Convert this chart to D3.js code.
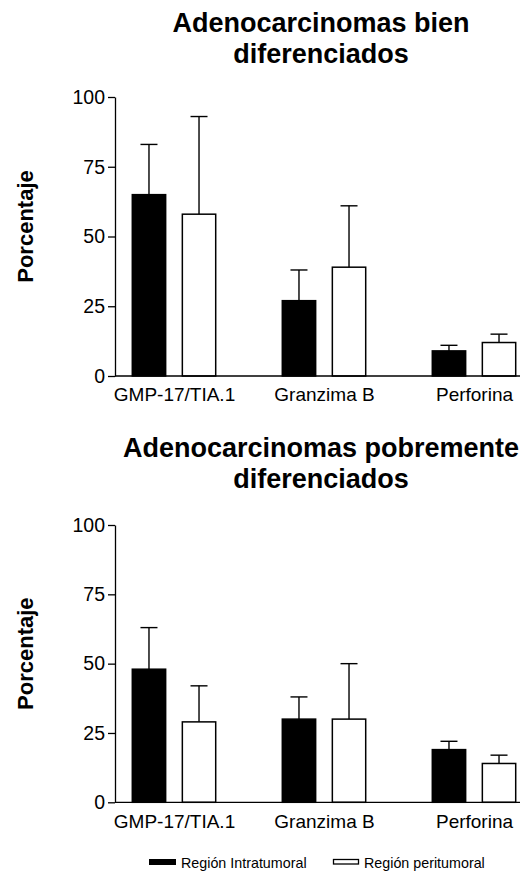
<!DOCTYPE html>
<html>
<head>
<meta charset="utf-8">
<script src="https://cdn.jsdelivr.net/npm/d3@7"></script>
<style>
  body { margin: 0; background: #fff; }
  svg text { font-family: Arial, "Liberation Sans", sans-serif; fill: #000; }
</style>
</head>
<body>
<div id="chart"></div>
<script>
// datos
const categories = ["GMP-17/TIA.1", "Granzima B", "Perforina"];
const series = ["Región Intratumoral", "Región peritumoral"];
const yTicks = [0, 25, 50, 75, 100];

// Adenocarcinomas bien diferenciados
const bienIntra = [65, 27, 9];
const bienIntraErr = [18, 11, 2];
const bienPeri = [58, 39, 12];
const bienPeriErr = [35, 22, 3];

// Adenocarcinomas pobremente diferenciados
const pobreIntra = [48, 30, 19];
const pobreIntraErr = [15, 8, 3];
const pobrePeri = [29, 30, 14];
const pobrePeriErr = [13, 20, 3];

const width = 526, height = 871;
const svg = d3.select("#chart").append("svg").attr("width", width).attr("height", height);

const fills = ["#000", "#fff"];

const DrawPanel = (titleLines, titleY, top, bottom, intra, intraErr, peri, periErr) => {
  const left = 115, right = 520;
  const g = svg.append("g");

  // título
  titleLines.forEach((t, i) => {
    g.append("text")
      .attr("x", 321)
      .attr("y", titleY + i * 31)
      .attr("text-anchor", "middle")
      .attr("font-size", "27px")
      .attr("font-weight", "bold")
      .text(t);
  });

  const yScale = d3.scaleLinear().domain([0, 100]).range([bottom, top]);
  const xScale = d3.scalePoint().domain(categories).range([174, 474]);
  const xInner = d3.scaleBand().domain(series).range([-41.7, 41.7]).paddingInner(1 / 3);

  // eje y
  const ay = g.append("g")
    .attr("transform", "translate(" + left + ",0)")
    .call(d3.axisLeft(yScale).tickValues(yTicks).tickSize(7).tickPadding(3).tickSizeOuter(0));
  ay.select(".domain").attr("stroke", "#000").attr("stroke-width", 1.3);
  ay.selectAll(".tick line").attr("stroke", "#000").attr("stroke-width", 1.3);
  ay.selectAll(".tick text").attr("font-size", "19.5px").attr("font-family", null);

  g.append("text")
    .attr("transform", "rotate(-90)")
    .attr("x", -((top + bottom) / 2 - 10))
    .attr("y", 33)
    .attr("text-anchor", "middle")
    .attr("font-size", "22px")
    .attr("font-weight", "bold")
    .text("Porcentaje");

  // barras
  const rows = categories.map((c, i) => [
    { cat: c, s: series[0], v: intra[i], e: intraErr[i], k: 0 },
    { cat: c, s: series[1], v: peri[i], e: periErr[i], k: 1 }
  ]).flat();

  const bars = g.append("g").selectAll("g").data(rows).enter().append("g");

  // barras de error (solo hacia arriba)
  bars.append("line")
    .attr("x1", d => xScale(d.cat) + xInner(d.s) + xInner.bandwidth() / 2)
    .attr("x2", d => xScale(d.cat) + xInner(d.s) + xInner.bandwidth() / 2)
    .attr("y1", d => yScale(d.v))
    .attr("y2", d => yScale(d.v + d.e))
    .attr("stroke", "#000").attr("stroke-width", 1.4);
  bars.append("line")
    .attr("x1", d => xScale(d.cat) + xInner(d.s) + xInner.bandwidth() / 2 - 8.5)
    .attr("x2", d => xScale(d.cat) + xInner(d.s) + xInner.bandwidth() / 2 + 8.5)
    .attr("y1", d => yScale(d.v + d.e))
    .attr("y2", d => yScale(d.v + d.e))
    .attr("stroke", "#000").attr("stroke-width", 1.4);

  bars.append("rect")
    .attr("x", d => xScale(d.cat) + xInner(d.s))
    .attr("y", d => yScale(d.v))
    .attr("width", xInner.bandwidth())
    .attr("height", d => yScale(0) - yScale(d.v))
    .attr("fill", d => fills[d.k])
    .attr("stroke", "#000")
    .attr("stroke-width", 1.5);

  // eje x
  const ax = g.append("g")
    .attr("transform", "translate(0," + bottom + ")")
    .call(d3.axisBottom(xScale).tickSize(0).tickPadding(12));
  ax.select(".domain").remove();
  ax.selectAll(".tick text").attr("font-size", "19px").attr("font-family", null);
  g.append("line")
    .attr("x1", left).attr("x2", right)
    .attr("y1", bottom).attr("y2", bottom)
    .attr("stroke", "#000").attr("stroke-width", 1.3);
};

DrawPanel(["Adenocarcinomas bien", "diferenciados"], 32, 97, 376,
  bienIntra, bienIntraErr, bienPeri, bienPeriErr);
DrawPanel(["Adenocarcinomas pobremente", "diferenciados"], 457, 525, 802.3,
  pobreIntra, pobreIntraErr, pobrePeri, pobrePeriErr);

// leyenda
const legendX = [149, 333];
const leg = svg.append("g").selectAll("g").data(series).enter().append("g")
  .attr("transform", (d, i) => "translate(" + legendX[i] + ",859)");
leg.append("rect")
  .attr("x", (d, i) => i ? 0.5 : 0)
  .attr("y", (d, i) => i ? 0.5 : 0)
  .attr("width", (d, i) => i ? 25 : 27)
  .attr("height", (d, i) => i ? 4.5 : 6)
  .attr("fill", (d, i) => fills[i])
  .attr("stroke", (d, i) => i ? "#000" : "none")
  .attr("stroke-width", 1.3);
leg.append("text")
  .attr("x", (d, i) => i ? 31 : 32)
  .attr("y", 8.5)
  .attr("font-size", "14.3px")
  .text(d => d);
</script>
</body>
</html>
